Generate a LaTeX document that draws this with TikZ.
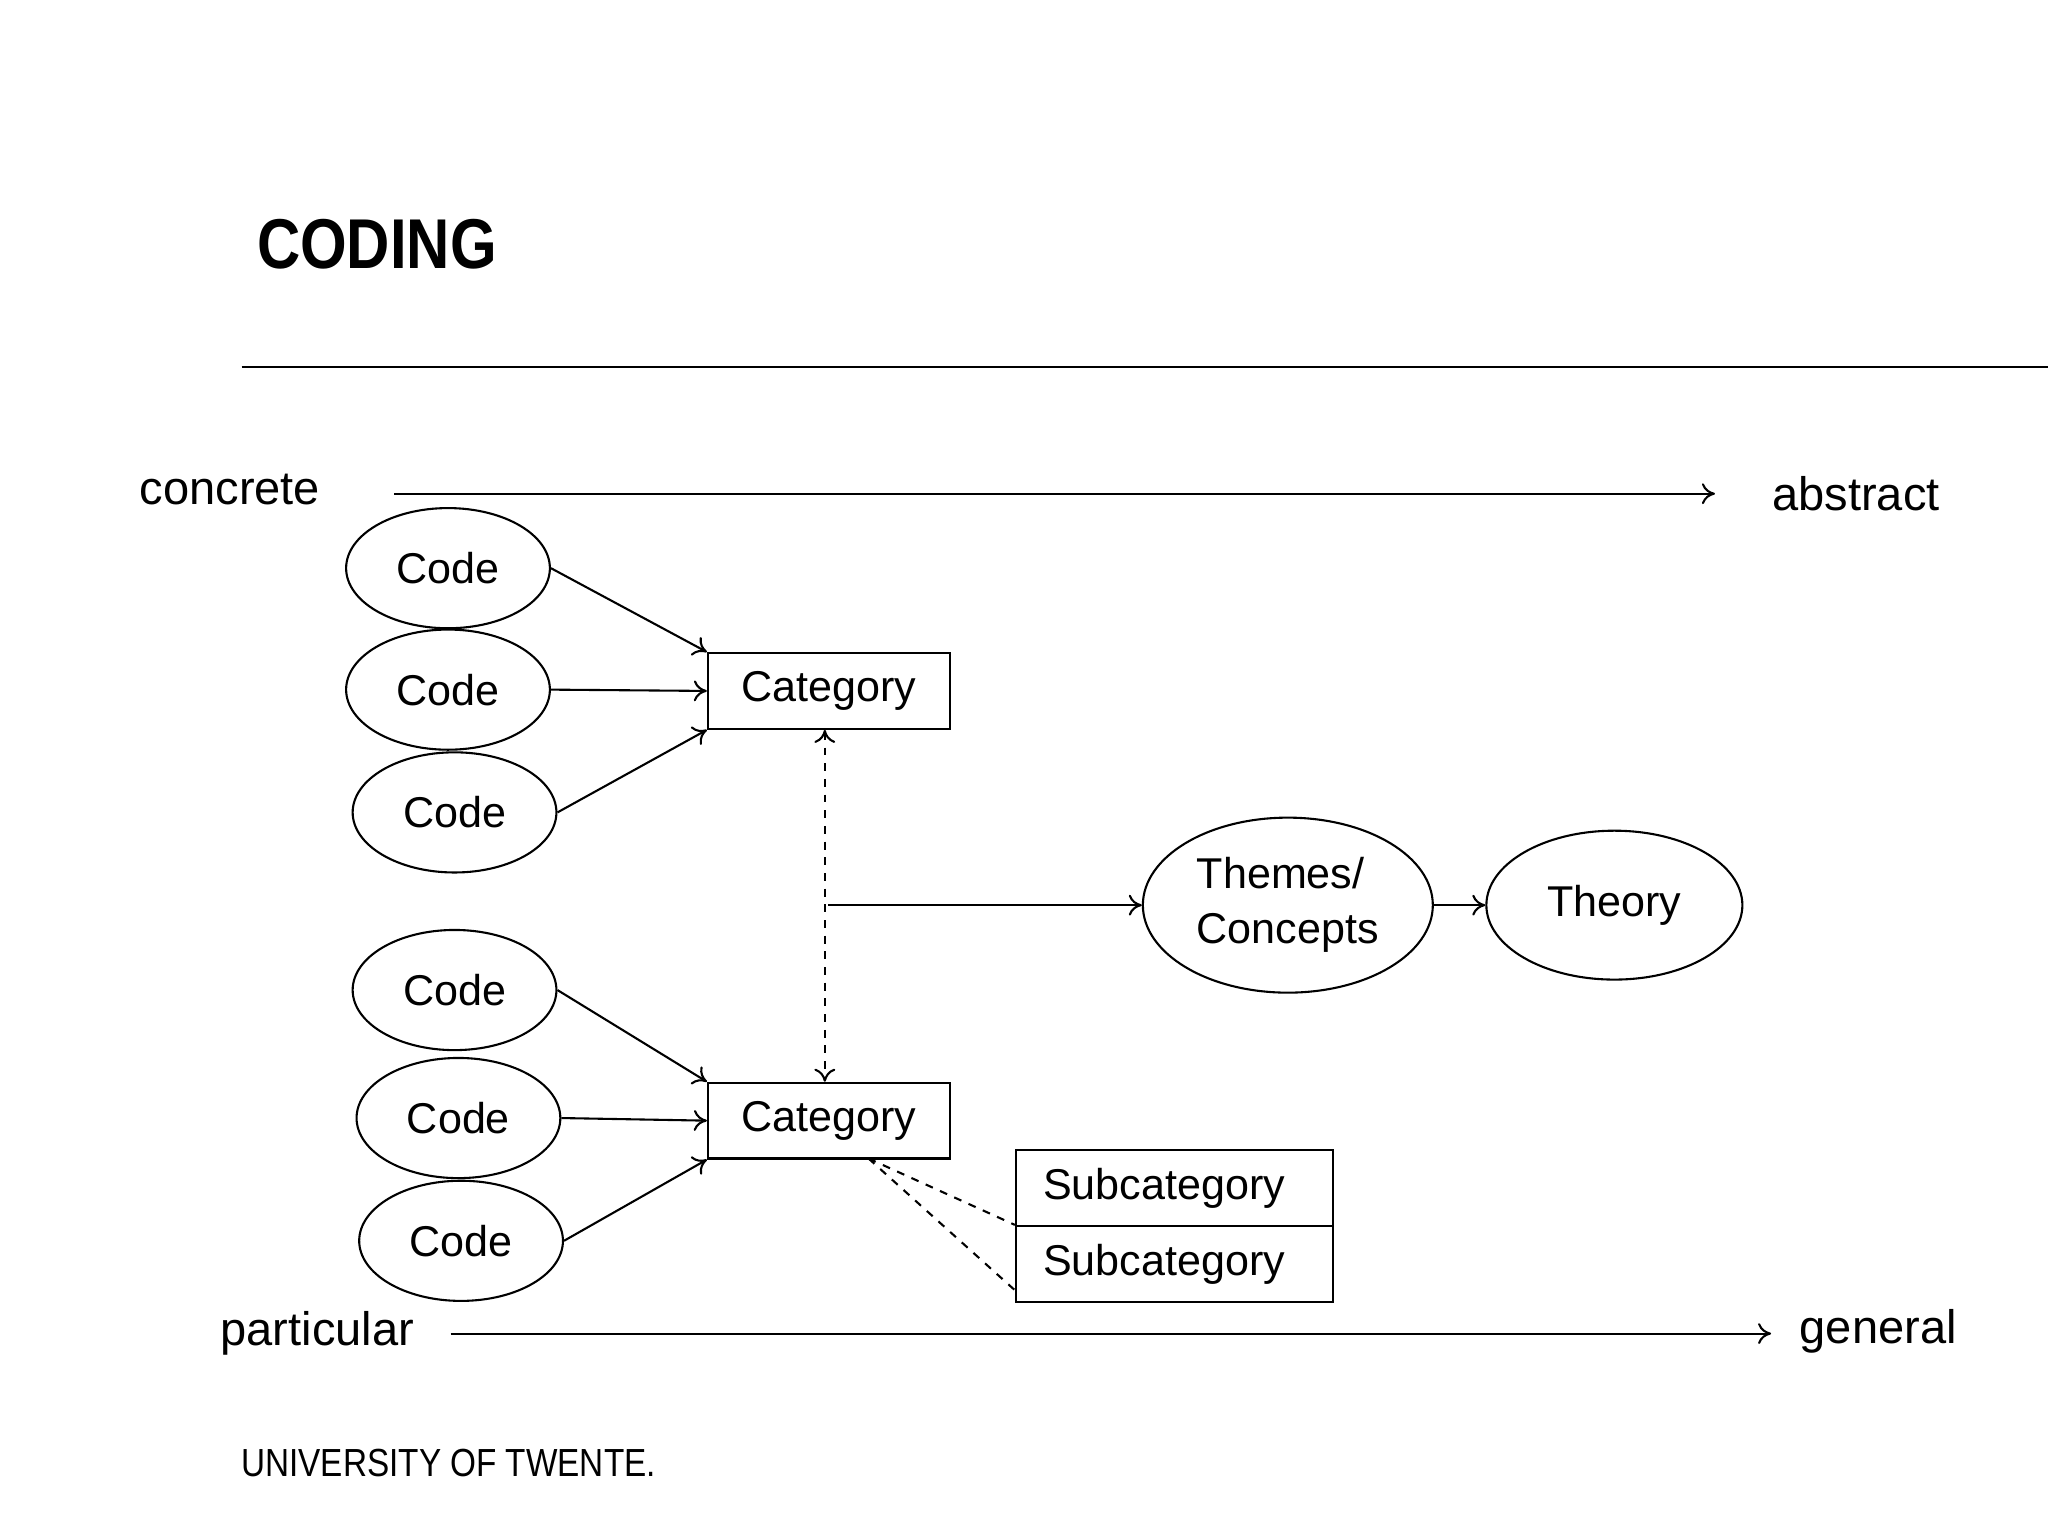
\documentclass[tikz,border=0pt]{standalone}
\usepackage{fontspec}
\setmainfont{Liberation Sans}
\usetikzlibrary{shapes.geometric,arrows.meta}
\begin{document}
\begin{tikzpicture}[x=0.5pt,y=-0.5pt,
  code/.style={ellipse,draw,thick,minimum width=156\pgflinewidth,inner sep=0pt,minimum width=78pt,minimum height=46pt,font=\fontsize{16.5}{18}\selectfont},
  cat/.style={rectangle,draw,thick,minimum width=92.5pt,minimum height=29pt,inner sep=0pt,font=\fontsize{16.5}{18}\selectfont},
  sub/.style={rectangle,draw,thick,minimum width=121.5pt,minimum height=29pt,inner sep=0pt,font=\fontsize{16.5}{18}\selectfont},
  lab/.style={font=\fontsize{18}{20}\selectfont,inner sep=0pt},
  arr/.style={thick,-{To[length=5pt,width=8pt]}},
  every path/.style={line width=0.8pt}]
\useasboundingbox (0,0) rectangle (1568,1176);
\node[anchor=west,inner sep=0pt,font=\bfseries\fontsize{27}{30}\selectfont] (title) at (196,187) {\scalebox{0.85}[1]{CODING}};
\coordinate (l1) at (185,281); \coordinate (l2) at (1568,281);
\draw (l1) -- (l2);
\node[lab] (conc) at (176,375) {concrete};
\node[lab] (abs) at (1421,378) {abstract};
\coordinate (a1) at (302,378); \coordinate (a2) at (1313,378);
\draw[arr] (a1) -- (a2);
\node[lab] (part) at (243,1021) {particular};
\node[lab] (gen) at (1438,1019) {general};
\coordinate (b1) at (345,1021); \coordinate (b2) at (1356,1021);
\draw[arr] (b1) -- (b2);
\node[code] (c1) at (343,435) {Code};
\node[code] (c2) at (343,528) {Code};
\node[code] (c3) at (348,622) {Code};
\node[code] (c4) at (348,758) {Code};
\node[code] (c5) at (351,856) {Code};
\node[code] (c6) at (353,950) {Code};
\node[cat] (k1) at (634.5,529) {Category};
\node[cat] (k2) at (634.5,858) {Category};
\node[ellipse,draw,thick,inner sep=0pt,minimum width=111pt,minimum height=67pt,align=left,font=\fontsize{16.5}{21}\selectfont] (th) at (986,693) {Themes/\\Concepts};
\node[ellipse,draw,thick,inner sep=0pt,minimum width=98pt,minimum height=57pt,font=\fontsize{16.5}{18}\selectfont] (tr) at (1236,693) {Theory};
\node[sub,anchor=north west] (s1) at (777,880) {\hspace*{-8pt}Subcategory};
\node[sub,anchor=north west] (s2) at (777,938) {\hspace*{-8pt}Subcategory};
\draw[arr] (c1.east) -- (k1.north west);
\draw[arr] (c2.east) -- (k1.west);
\draw[arr] (c3.east) -- (k1.south west);
\draw[arr] (c4.east) -- (k2.north west);
\draw[arr] (c5.east) -- (k2.west);
\draw[arr] (c6.east) -- (k2.south west);
\draw[thick,dashed,{To[length=5pt,width=8pt]}-{To[length=5pt,width=8pt]}] ([xshift=-1.5pt]k1.south) -- ([xshift=-1.5pt]k2.north);
\coordinate (m) at (634,693);
\draw[arr] (m) -- (th.west);
\draw[arr] (th.east) -- (tr.west);
\coordinate (d) at (665,887);
\draw[thick,dashed] (d) -- ([yshift=-14pt]s1.west);
\draw[thick,dashed] (d) -- ([yshift=-10pt]s2.west);
\node[anchor=west,inner sep=0pt,font=\fontsize{15}{17}\selectfont] (uni) at (184,1120) {\scalebox{0.85}[1]{UNIVERSITY OF TWENTE.}};
\end{tikzpicture}
\end{document}
